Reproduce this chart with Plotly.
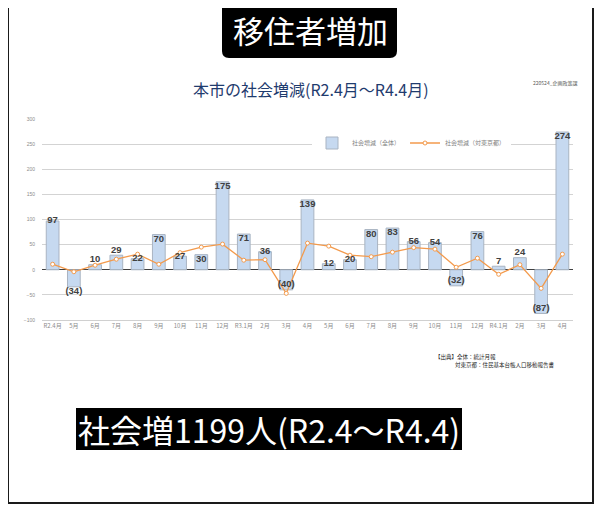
import plotly.graph_objects as go

# ---- data ----
months = ["R2.4月", "5月", "6月", "7月", "8月", "9月", "10月", "11月", "12月",
          "R3.1月", "2月", "3月", "4月", "5月", "6月", "7月", "8月", "9月", "10月",
          "11月", "12月", "R4.1月", "2月", "3月", "4月"]
total = [97, -34, 10, 29, 22, 70, 27, 30, 175, 71, 36, -40, 139, 12, 20, 80, 83,
         56, 54, -32, 76, 7, 24, -87, 274]
tokyo = [11, -4, 9, 21, 31, 11, 34, 45, 51, 19, 20, -47, 53, 47, 29, 26, 35, 44,
         41, 5, 23, -9, 10, -37, 31]
label_pos = ["middle center", "bottom center", "top center", "top center", "middle center",
             "bottom center", "middle center", "bottom center", "bottom center", "bottom center",
             "middle center", "top center", "bottom center", "middle center", "middle center",
             "bottom center", "bottom center", "middle center", "middle center", "top center",
             "bottom center", "top center", "top center", "top center", "bottom center"]
yticks = [-100, -50, 0, 50, 100, 150, 200, 250, 300]

xs = list(range(len(months)))
labels = [f"({-v})" if v < 0 else str(v) for v in total]

# The page body has an 8px margin, so the figure is drawn at (8, 8) on screen.
OFF = 8
SW, SH = 604, 528
PX0, PX1, PY0, PY1 = 42, 573, 119, 320
W, H = SW - OFF, SH - OFF
L, T = PX0 - OFF, PY0 - OFF
R, B = W - (PX1 - OFF), H - (PY1 - OFF)
PW, PH = PX1 - PX0, PY1 - PY0


def px(x):
    return (x - PX0) / PW


def py(y):
    return (PY1 - y) / PH


FONT = "Noto Sans CJK JP, Noto Sans, sans-serif"

fig = go.Figure()
fig.add_trace(go.Bar(
    x=xs, y=total, name="社会増減（全体）",
    marker=dict(color="#c6d9f0", line=dict(color="#a9b4c2", width=1)),
    width=0.6, hoverinfo="skip",
))
fig.add_trace(go.Scatter(
    x=xs, y=tokyo, name="社会増減（対東京都）", mode="lines+markers",
    line=dict(color="#f39a4c", width=1.3),
    marker=dict(size=4, color="white", line=dict(color="#f39a4c", width=1)),
    hoverinfo="skip",
))
fig.add_trace(go.Scatter(
    x=xs, y=total, mode="text", text=labels, textposition=label_pos,
    textfont=dict(family="Liberation Sans", size=9.5, color="#404040", weight="bold"),
    showlegend=False, hoverinfo="skip",
))


def rounded(x0, y0, x1, y1, r):
    pts = [
        f"M {px(x0 + r)},{py(y0)}",
        f"L {px(x1 - r)},{py(y0)}",
        f"Q {px(x1)},{py(y0)} {px(x1)},{py(y0 + r)}",
        f"L {px(x1)},{py(y1 - r)}",
        f"Q {px(x1)},{py(y1)} {px(x1 - r)},{py(y1)}",
        f"L {px(x0 + r)},{py(y1)}",
        f"Q {px(x0)},{py(y1)} {px(x0)},{py(y1 - r)}",
        f"L {px(x0)},{py(y0 + r)}",
        f"Q {px(x0)},{py(y0)} {px(x0 + r)},{py(y0)}",
        "Z",
    ]
    return " ".join(pts)


shapes = [
    dict(type="rect", xref="paper", yref="paper", x0=px(8), x1=px(593), y0=py(-5), y1=py(503),
         line=dict(color="#1a1a1a", width=2), fillcolor="rgba(0,0,0,0)", layer="above"),
    dict(type="path", xref="paper", yref="paper", path=rounded(222, 2, 397, 58, 7),
         fillcolor="black", line=dict(width=0)),
    dict(type="rect", xref="paper", yref="paper", x0=px(76), x1=px(462), y0=py(408), y1=py(450),
         fillcolor="black", line=dict(width=0)),
]

annotations = [
    dict(text="移住者増加", x=px(310), y=py(30), xref="paper", yref="paper",
         showarrow=False, font=dict(family=FONT, size=31, color="white"),
         xanchor="center", yanchor="middle"),
    dict(text="本市の社会増減(R2.4月～R4.4月)", x=px(311), y=py(89), xref="paper", yref="paper",
         showarrow=False, font=dict(family=FONT, size=16, color="#1f3b6e"),
         xanchor="center", yanchor="middle"),
    dict(text="220524_企画政策課", x=px(555), y=py(83), xref="paper", yref="paper",
         showarrow=False, font=dict(family=FONT, size=5, color="#595959"),
         xanchor="center", yanchor="middle"),
    dict(text="【出典】全体：統計月報", x=px(433), y=py(357), xref="paper", yref="paper",
         showarrow=False, font=dict(family=FONT, size=5.5, color="#262626"),
         xanchor="left", yanchor="middle"),
    dict(text="対東京都：住民基本台帳人口移動報告書", x=px(453), y=py(365), xref="paper", yref="paper",
         showarrow=False, font=dict(family=FONT, size=5.5, color="#262626"),
         xanchor="left", yanchor="middle"),
    dict(text="社会増1199人(R2.4～R4.4)", x=px(269), y=py(429), xref="paper", yref="paper",
         showarrow=False, font=dict(family=FONT, size=32, color="white"),
         xanchor="center", yanchor="middle"),
]

fig.update_layout(
    width=W, height=H,
    margin=dict(l=L, r=R, t=T, b=B, autoexpand=False),
    paper_bgcolor="white", plot_bgcolor="white",
    font=dict(family=FONT),
    showlegend=True,
    legend=dict(orientation="h", x=px(312), y=py(143), xanchor="left", yanchor="middle",
                bgcolor="white", font=dict(family=FONT, size=6, color="#7f7f7f"),
                itemwidth=30, tracegroupgap=0),
    bargap=0.4,
    shapes=shapes,
    annotations=annotations,
    xaxis=dict(
        tickmode="array", tickvals=xs, ticktext=months, range=[-0.5, len(months) - 0.5],
        tickfont=dict(family=FONT, size=6, color="#8c8c8c"), ticks="",
        showgrid=False, showline=True, linecolor="#d0d0d0", linewidth=1,
        zeroline=False, tickangle=0, fixedrange=True,
    ),
    yaxis=dict(
        range=[-100, 300], tickmode="array", tickvals=yticks,
        tickfont=dict(family="Liberation Sans", size=5, color="#8c8c8c"),
        showgrid=True, gridcolor="#d3d3d3", gridwidth=1,
        zeroline=True, zerolinecolor="#404040", zerolinewidth=1.2,
        showline=False, ticks="", ticklabelstandoff=6, fixedrange=True,
    ),
)

fig.write_html("out.html")
